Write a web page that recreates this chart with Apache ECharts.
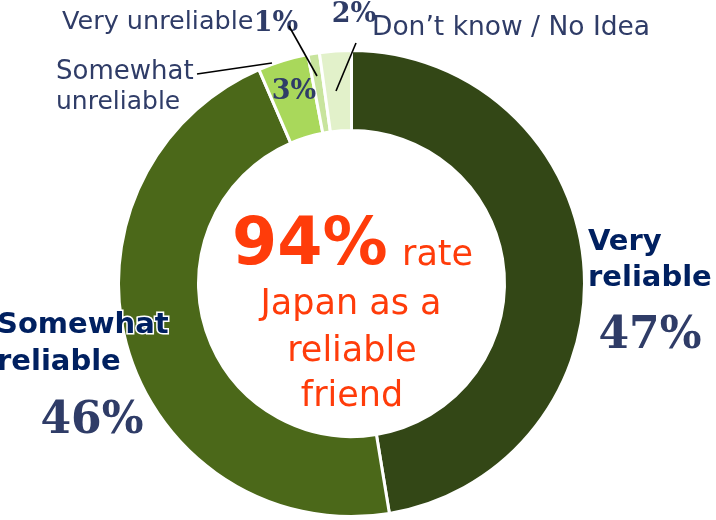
<!DOCTYPE html>
<html>
<head>
<meta charset="utf-8">
<script src="https://cdn.jsdelivr.net/npm/echarts@6/dist/echarts.min.js"></script>
<style>html,body{margin:0;padding:0;background:#fff}#c{width:716px;height:520px}</style>
</head>
<body>
<div id="c"></div>
<script>
// Categories in clockwise order from the top
const categories = ['Very reliable', 'Somewhat reliable', 'Somewhat unreliable', 'Very unreliable', "Don\u2019t know / No Idea"];
// Slice shares as drawn in the picture (%)
const sliceShares = [47.4, 46.1, 3.5, 0.8, 2.2];
// Printed percentage labels
const percentLabels = ['47%', '46%', '3%', '1%', '2%'];
const sliceColors = ['#334716', '#4B6819', '#A9D85B', '#C8E49D', '#E2F1CA'];
const centerHeadline = '94%';
const centerLines = ['rate', 'Japan as a', 'reliable', 'friend'];

const chart = echarts.init(document.getElementById('c'), null, {renderer: 'canvas'});
const navy = '#002060';
const slate = '#2F3C67';
const orange = '#FF3C0A';
const sans = 'DejaVu Sans';
const serif = 'DejaVu Serif';

function txt(x, y, text, opt) {
  return {
    type: 'text', x: x, y: y, z: 10,
    style: Object.assign({
      text: text, fill: slate, fontFamily: sans, fontSize: 25,
      align: 'left', verticalAlign: 'middle'
    }, opt || {})
  };
}
function line(x1, y1, x2, y2) {
  return {type: 'line', z: 10, shape: {x1: x1, y1: y1, x2: x2, y2: y2}, style: {stroke: '#000', lineWidth: 1.6}};
}
const glow = {stroke: '#fff', lineWidth: 3};
const veryRel = categories[0].split(' ');
const somRel = categories[1].split(' ');
const somUnrel = categories[2].split(' ');

chart.setOption({
  animation: false,
  series: [{
    type: 'pie',
    center: [351.5, 283.5],
    radius: [153, 233],
    startAngle: 90,
    clockwise: true,
    label: {show: false},
    labelLine: {show: false},
    itemStyle: {borderColor: '#fff', borderWidth: 3},
    emphasis: {disabled: true},
    data: categories.map((c, i) => ({name: c, value: sliceShares[i], itemStyle: {color: sliceColors[i]}}))
  }],
  graphic: [
    // right label
    txt(588, 242, veryRel[0], Object.assign({fill: navy, fontWeight: 'bold', fontSize: 29}, glow)),
    txt(588, 278, veryRel[1], Object.assign({fill: navy, fontWeight: 'bold', fontSize: 29}, glow)),
    txt(650, 337, percentLabels[0], {fontFamily: serif, fontWeight: 'bold', fontSize: 44, align: 'center'}),
    // left label
    txt(-3, 325, somRel[0], Object.assign({fill: navy, fontWeight: 'bold', fontSize: 29}, glow)),
    txt(-3, 362, somRel[1], Object.assign({fill: navy, fontWeight: 'bold', fontSize: 29}, glow)),
    txt(92, 422, percentLabels[1], {fontFamily: serif, fontWeight: 'bold', fontSize: 44, align: 'center'}),
    // small labels
    txt(56, 72, somUnrel[0], {fontSize: 26}),
    txt(56, 102, somUnrel[1], {fontSize: 25}),
    txt(294, 92, percentLabels[2], {fontFamily: serif, fontWeight: 'bold', fontSize: 27, align: 'center'}),
    txt(62, 22, categories[3], {fontSize: 25.5}),
    txt(276, 24, percentLabels[3], {fontFamily: serif, fontWeight: 'bold', fontSize: 27, align: 'center'}),
    txt(354, 15, percentLabels[4], {fontFamily: serif, fontWeight: 'bold', fontSize: 27, align: 'center'}),
    txt(372, 28, categories[4], {fontSize: 26.5}),
    line(197, 74, 272, 63),
    line(289, 26, 317, 76),
    line(356, 43, 336, 91),
    // center text
    txt(232, 247, centerHeadline, {fill: orange, fontWeight: 'bold', fontSize: 65}),
    txt(402, 256, centerLines[0], {fill: orange, fontSize: 35}),
    txt(351, 305, centerLines[1], {fill: orange, fontSize: 35, align: 'center'}),
    txt(352, 352, centerLines[2], {fill: orange, fontSize: 35, align: 'center'}),
    txt(352, 397, centerLines[3], {fill: orange, fontSize: 35, align: 'center'})
  ]
});
</script>
</body>
</html>
